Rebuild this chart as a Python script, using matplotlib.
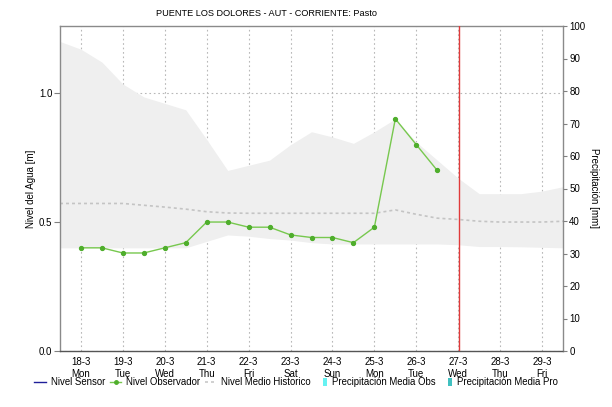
import matplotlib
matplotlib.use("Agg")
import matplotlib.pyplot as plt
from matplotlib.lines import Line2D
from matplotlib.patches import Patch, Rectangle
from matplotlib.legend_handler import HandlerPatch

plt.rcParams['font.family'] = ['Liberation Sans', 'DejaVu Sans']

# ---------------- data ----------------
title = "PUENTE LOS DOLORES - AUT - CORRIENTE: Pasto"
tick_days = [18, 19, 20, 21, 22, 23, 24, 25, 26, 27, 28, 29]
tick_weekdays = ["Mon", "Tue", "Wed", "Thu", "Fri", "Sat", "Sun", "Mon", "Tue", "Wed", "Thu", "Fri"]

obs_days = [18.0, 18.5, 19.0, 19.5, 20.0, 20.5, 21.0, 21.5, 22.0, 22.5,
            23.0, 23.5, 24.0, 24.5, 25.0, 25.5, 26.0, 26.5]
obs_level = [0.40, 0.40, 0.38, 0.38, 0.40, 0.42, 0.50, 0.50, 0.48, 0.48,
             0.45, 0.44, 0.44, 0.42, 0.48, 0.90, 0.80, 0.70]

hist_days = [17.5, 18.0, 18.5, 19.0, 19.5, 20.0, 20.5, 21.0, 21.5, 22.0, 22.5, 23.0, 23.5,
             24.0, 24.5, 25.0, 25.5, 26.0, 26.5, 27.0, 27.5, 28.0, 28.5, 29.0, 29.5]
hist_upper = [1.20, 1.17, 1.12, 1.035, 0.985, 0.96, 0.935, 0.82, 0.70, 0.72, 0.74, 0.80, 0.85,
              0.83, 0.805, 0.85, 0.90, 0.81, 0.74, 0.67, 0.61, 0.61, 0.61, 0.62, 0.637]
hist_lower = [0.40, 0.40, 0.40, 0.40, 0.40, 0.40, 0.40, 0.425, 0.45, 0.445, 0.436, 0.43, 0.42,
              0.415, 0.415, 0.415, 0.415, 0.415, 0.415, 0.412, 0.405, 0.405, 0.404, 0.402, 0.40]
hist_mean = [0.572, 0.572, 0.572, 0.572, 0.565, 0.558, 0.55, 0.54, 0.535, 0.534, 0.534, 0.534, 0.534,
             0.534, 0.534, 0.534, 0.547, 0.53, 0.515, 0.51, 0.503, 0.50, 0.50, 0.50, 0.503]

now_day = 27.03
left_ticks = [0.0, 0.5, 1.0]
right_ticks = [0, 10, 20, 30, 40, 50, 60, 70, 80, 90, 100]

legend_labels = ["Nivel Sensor", "Nivel Observador", "Nivel Medio Historico",
                 "Precipitación Media Obs", "Precipitación Media Pro"]

# ---------------- figure ----------------
W, H = 612, 407
fig = plt.figure(figsize=(W / 100, H / 100), dpi=100)
ax = fig.add_axes([60 / W, 1 - 351 / H, (563 - 60) / W, (351 - 26) / H])

fs = 7
grid_c = '#b8b8b8'

ax.fill_between(hist_days, hist_lower, hist_upper, color='#efefef', lw=0, zorder=1)
ax.plot(hist_days, hist_mean, color='#c4c4c4', lw=1.2, ls=(0, (1.8, 1.8)), zorder=2)
ax.plot(obs_days, obs_level, color='#77c84e', lw=1.0, marker='o', ms=2.8,
        mfc='#4fae2c', mec='#4fae2c', zorder=4)
ax.axvline(now_day, color='#e03a3a', lw=1.0, zorder=5, snap=True)

ax.set_xlim(17.5, 29.5)
ax.set_ylim(0, 1.26)
ax.set_xticks(tick_days)
ax.set_xticklabels([f"{d}-3\n{w}" for d, w in zip(tick_days, tick_weekdays)], fontsize=fs, linespacing=1.25)
ax.set_yticks(left_ticks)
ax.set_yticklabels([f"{v:.1f}" for v in left_ticks], fontsize=fs)
ax.tick_params(axis='x', length=0, pad=4.5)
ax.tick_params(axis='y', length=4, width=0.8, color='#808080', pad=1.5)

ax.grid(True, color=grid_c, ls=(0, (1.5, 2.5)), lw=0.8, zorder=0)
ax.set_axisbelow(True)

for s in ['top', 'left', 'right']:
    ax.spines[s].set_color('#8a8a8a')
    ax.spines[s].set_linewidth(1.0)
ax.spines['bottom'].set_color('#555555')
ax.spines['bottom'].set_linestyle((0, (1, 1)))
ax.spines['bottom'].set_linewidth(1.0)

ax.set_ylabel("Nivel del Agua [m]", fontsize=fs, labelpad=2)

ax2 = ax.twinx()
ax2.set_ylim(0, 100)
ax2.set_yticks(right_ticks)
ax2.set_yticklabels([str(v) for v in right_ticks], fontsize=fs)
ax2.tick_params(axis='y', length=3, width=0.8, color='#808080', pad=1.5)
for s in ax2.spines.values():
    s.set_visible(False)
ax2.set_ylabel("Precipitación [mm]", fontsize=fs, rotation=-90, labelpad=10)

fig.text(266.5 / W, 1 - 14 / H, title, fontsize=6.6, ha='center', va='center')

# legend
class NarrowPatch(HandlerPatch):
    def create_artists(self, legend, orig_handle, xdescent, ydescent, width, height, fontsize, trans):
        w = height * 0.6
        h = height * 1.15
        r = Rectangle((width - w - xdescent, -ydescent - 0.08 * height), w, h,
                      facecolor=orig_handle.get_facecolor(), edgecolor='none', transform=trans)
        return [r]

handles = [
    Line2D([], [], color='#1f1f99', lw=1.0),
    Line2D([], [], color='#77c84e', lw=1.0, marker='o', ms=2.5, mfc='#4fae2c', mec='#4fae2c'),
    Line2D([], [], color='#c8c8c8', lw=1.2, ls=(0, (1.8, 1.8))),
    Patch(facecolor='#66f2f2'),
    Patch(facecolor='#40c0c0'),
]
leg = fig.legend(handles, legend_labels, ncol=5, loc='center', bbox_to_anchor=(296 / W, 1 - 382 / H),
                 frameon=False, fontsize=6.9, handlelength=1.2, handletextpad=0.5, columnspacing=0.5,
                 handler_map={Patch: NarrowPatch()})

fig.savefig("out.png", dpi=100)
